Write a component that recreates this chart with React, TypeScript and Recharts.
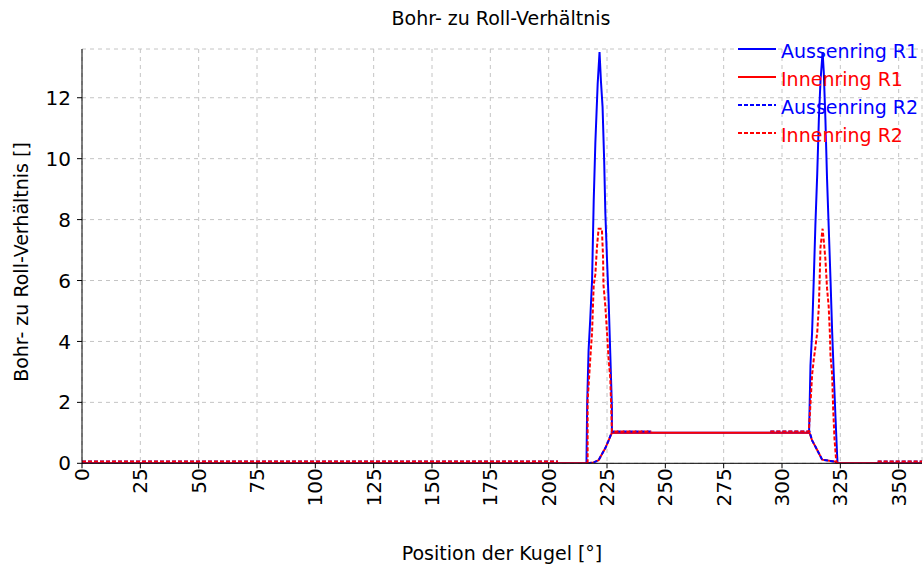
import { LineChart, Line, XAxis, YAxis, CartesianGrid, Legend } from "recharts";

const xTicks = [0, 25, 50, 75, 100, 125, 150, 175, 200, 225, 250, 275, 300, 325, 350];
const yTicks = [0, 2, 4, 6, 8, 10, 12];

// Aussenring R1 (outer spikes)
const aussenR1X = [0, 216.2, 216.5, 217.1, 217.8, 218.6, 219.3, 220.0, 221.0, 221.8, 222.4, 223.1, 223.8, 224.3, 225.0, 225.7, 226.4, 227.1, 227.1, 311.6, 312.2, 312.9, 313.6, 314.3, 315.1, 315.8, 316.5, 317.4, 317.9, 318.6, 319.3, 320.0, 320.8, 321.5, 322.2, 322.9, 323.6, 323.8, 360];
const aussenR1Y = [0, 0, 1.95, 3.7, 4.7, 6.0, 8.6, 10.5, 12.45, 13.5, 12.55, 11.7, 9.9, 8.2, 6.7, 5.35, 3.6, 1.85, 1.0, 1.0, 3.2, 4.3, 6.0, 7.8, 9.5, 11.3, 12.55, 13.5, 12.85, 11.3, 9.35, 7.8, 6.0, 4.3, 2.9, 1.55, 0.3, 0, 0];

// Innenring R1 (lower ramps + plateau)
const innenR1X = [0, 216.7, 219.3, 221.4, 222.8, 224.3, 225.7, 227.1, 311.8, 312.9, 314.3, 315.8, 317.2, 322.9, 323.6, 360];
const innenR1Y = [0, 0, 0.03, 0.1, 0.3, 0.5, 0.75, 1.0, 1.0, 0.75, 0.55, 0.33, 0.12, 0.05, 0, 0];

// Aussenring R2
const aussenR2X = [0, 204, 210, 216.7, 219.3, 221.4, 222.8, 224.3, 225.7, 227.1, 244, 270, 295, 311.8, 312.9, 314.3, 315.8, 317.2, 322.9, 323.6, 332, 341, 360];
const aussenR2Y = [0.06, 0.06, null, 0, 0.03, 0.1, 0.3, 0.5, 0.75, 1.04, 1.04, null, 1.04, 1.04, 0.75, 0.55, 0.33, 0.12, 0.05, 0, null, 0.06, 0.06];

// Innenring R2 (inner spikes)
const innenR2X = [0, 204, 210, 216.7, 216.7, 217.8, 218.6, 219.3, 220.0, 220.7, 221.4, 222.8, 223.3, 223.5, 224.3, 225.0, 225.7, 226.4, 226.8, 227.1, 244, 270, 295, 311.5, 311.9, 312.5, 312.9, 313.6, 314.3, 315.1, 315.8, 316.2, 316.5, 317.4, 317.9, 318.6, 319.3, 320.0, 320.5, 320.8, 321.5, 321.9, 322.5, 323.2, 323.6, 332, 341, 360];
const innenR2Y = [0.06, 0.06, null, 0, 2.05, 3.4, 4.3, 5.85, 6.2, 7.1, 7.7, 7.7, 6.8, 5.85, 5.15, 4.3, 3.4, 2.8, 1.85, 1.04, 1.04, null, 1.04, 1.04, 1.55, 2.35, 2.9, 3.4, 3.8, 4.3, 5.15, 6.2, 7.1, 7.7, 7.3, 6.7, 5.75, 5.15, 4.3, 3.5, 2.9, 1.85, 0.8, 0.1, 0, null, 0.06, 0.06];

const toPoints = (xs: number[], ys: (number | null)[]) => xs.map((x, i) => ({ x, y: ys[i] }));

const series = [
  { name: "Aussenring R1", data: toPoints(aussenR1X, aussenR1Y), color: "#0000ff", dash: undefined },
  { name: "Innenring R1", data: toPoints(innenR1X, innenR1Y), color: "#ff0000", dash: undefined },
  { name: "Aussenring R2", data: toPoints(aussenR2X, aussenR2Y), color: "#0000ff", dash: "4 2" },
  { name: "Innenring R2", data: toPoints(innenR2X, innenR2Y), color: "#ff0000", dash: "4 2" },
];

const FONT = "'DejaVu Sans', Verdana, sans-serif";

function XTick(props: any) {
  const { x, y, payload } = props;
  return (
    <text
      x={x}
      y={y}
      dx={2}
      transform={`rotate(-90 ${x} ${y})`}
      textAnchor="end"
      dominantBaseline="central"
      fontSize={20}
      fill="#000"
    >
      {payload.value}
    </text>
  );
}

function LegendBox() {
  return (
    <div>
      {series.map((s) => (
        <svg key={s.name} width={188} height={28} style={{ display: "block" }}>
          <line x1={2} x2={40} y1={11} y2={11} stroke={s.color} strokeWidth={2} strokeDasharray={s.dash} />
          <text x={45} y={20} fontSize={19} fill={s.color} fontFamily={FONT}>
            {s.name}
          </text>
        </svg>
      ))}
    </div>
  );
}

export default function App() {
  return (
    <div style={{ position: "absolute", left: 0, top: 0, width: 924, height: 571, background: "#fff", fontFamily: FONT }}>
      <LineChart width={924} height={571} margin={{ top: 49, right: 2, bottom: 0, left: 0 }}>
        <CartesianGrid stroke="#c4c4c4" strokeDasharray="4 4" />
        <XAxis
          type="number"
          dataKey="x"
          domain={[0, 360]}
          ticks={xTicks}
          height={107.7}
          tick={<XTick />}
          tickSize={5}
          tickMargin={2}
          stroke="#000"
          allowDataOverflow
          interval={0}
        />
        <YAxis
          type="number"
          domain={[0, 13.6]}
          ticks={yTicks}
          width={82}
          tick={{ fontSize: 20, fill: "#000" }}
          tickSize={5}
          tickMargin={6}
          stroke="#000"
          allowDataOverflow
          interval={0}
        />
        <Legend
          layout="vertical"
          align="center"
          verticalAlign="middle"
          content={<LegendBox />}
          wrapperStyle={{ top: 38, left: 736, width: 188, bottom: "auto", right: "auto" }}
        />
        {series.map((s) => (
          <Line
            key={s.name}
            name={s.name}
            data={s.data}
            dataKey="y"
            type="linear"
            stroke={s.color}
            strokeWidth={2}
            strokeDasharray={s.dash}
            dot={false}
            activeDot={false}
            connectNulls={false}
            isAnimationActive={false}
          />
        ))}
        <text x={501} y={25} textAnchor="middle" fontSize={19} fill="#000">
          Bohr- zu Roll-Verhältnis
        </text>
        <text x={502} y={560} textAnchor="middle" fontSize={19} fill="#000">
          Position der Kugel [°]
        </text>
        <text x={28} y={262} transform="rotate(-90 28 262)" textAnchor="middle" fontSize={19} fill="#000">
          Bohr- zu Roll-Verhältnis []
        </text>
      </LineChart>
    </div>
  );
}
